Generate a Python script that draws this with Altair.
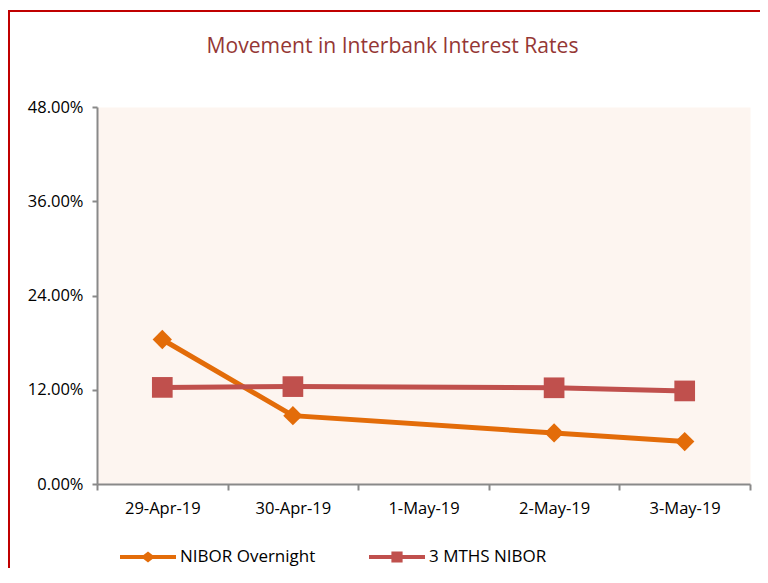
import altair as alt
import pandas as pd

dates = ["29-Apr-19", "30-Apr-19", "1-May-19", "2-May-19", "3-May-19"]
overnight = [18.4, 8.7, None, 6.5, 5.4]
three_m = [12.3, 12.4, None, 12.25, 11.85]
series = ["NIBOR Overnight", "3 MTHS NIBOR"]
colors = ["#E36C09", "#C0504D"]
y_ticks = [0, 0.12, 0.24, 0.36, 0.48]

rows = []
for name, vals in zip(series, [overnight, three_m]):
    for d, v in zip(dates, vals):
        if v is not None:
            rows.append({"date": d, "series": name, "rate": v / 100.0})
df = pd.DataFrame(rows)

FONT = "Open Sans"
PLOT_BG = "#FDF5F0"
diamond_leg = "M-1,-0.07L-0.16,-0.07L0,-0.2L0.16,-0.07L1,-0.07L1,0.07L0.16,0.07L0,0.2L-0.16,0.07L-1,0.07Z"
square_leg = ("M-1,-0.07L-0.2,-0.07L-0.2,-0.2L0.2,-0.2L0.2,-0.07L1,-0.07L1,0.07"
              "L0.2,0.07L0.2,0.2L-0.2,0.2L-0.2,0.07L-1,0.07Z")

x_enc = alt.X("date:N", sort=dates, scale=alt.Scale(domain=dates, paddingInner=0, paddingOuter=0),
              axis=alt.Axis(title=None, labelAngle=0, tickBand="extent", tickSize=6,
                            labelPadding=10))
y_enc = alt.Y("rate:Q", scale=alt.Scale(domain=[0, 0.48], nice=False),
              axis=alt.Axis(title=None, format=".2%", values=y_ticks, tickSize=5,
                            labelPadding=9, grid=False))
color_scale = alt.Scale(domain=series, range=colors)

base = alt.Chart(df)
legend_layer = base.transform_filter("false").mark_point(filled=True, opacity=1, size=3136).encode(
    x=x_enc, y=y_enc,
    color=alt.Color("series:N", sort=series, scale=color_scale,
                    legend=alt.Legend(title=None, orient="none", direction="horizontal",
                                      legendX=23, legendY=422, symbolSize=3136,
                                      symbolOpacity=1, symbolStrokeWidth=0,
                                      columnPadding=53, labelOffset=4)),
    shape=alt.Shape("series:N", sort=series,
                    scale=alt.Scale(domain=series, range=[diamond_leg, square_leg])),
)

layers = []
for name, col, shp, sz in zip(series, colors, ["diamond", "square"], [373, 428]):
    sub = base.transform_filter(alt.datum.series == name)
    layers.append(sub.mark_line(strokeWidth=5, color=col).encode(x=x_enc, y=y_enc))
    layers.append(sub.mark_point(filled=True, opacity=1, color=col, shape=shp, size=sz)
                  .encode(x=x_enc, y=y_enc))

frame = alt.Chart(pd.DataFrame({"a": [0]})).mark_rect(
    filled=False, stroke="#C00000", strokeWidth=2
).encode(x=alt.value(-88), x2=alt.value(680), y=alt.value(-96), y2=alt.value(500))

chart = alt.layer(frame, legend_layer, *layers).properties(
    width=653, height=377,
    title=alt.TitleParams("Movement in Interbank Interest Rates", font=FONT, fontSize=21.1,
                          fontWeight="normal", color="#953735", anchor="middle", dx=-31,
                          offset=-47),
    autosize=alt.AutoSizeParams(type="none"),
    padding={"left": 89, "top": 99, "right": 10, "bottom": 84},
    view=alt.ViewBackground(fill=PLOT_BG, stroke="transparent"),
).configure_view(
    fill=PLOT_BG, stroke="transparent"
).configure_axis(
    labelFont=FONT, labelFontSize=16.5, labelColor="#000000",
    domainColor="#898989", tickColor="#898989", domainWidth=2, tickWidth=2,
).configure_legend(
    labelFont=FONT, labelFontSize=17, labelColor="#000000",
)

chart.save("out.html", embed_options={"renderer": "svg", "actions": False})
